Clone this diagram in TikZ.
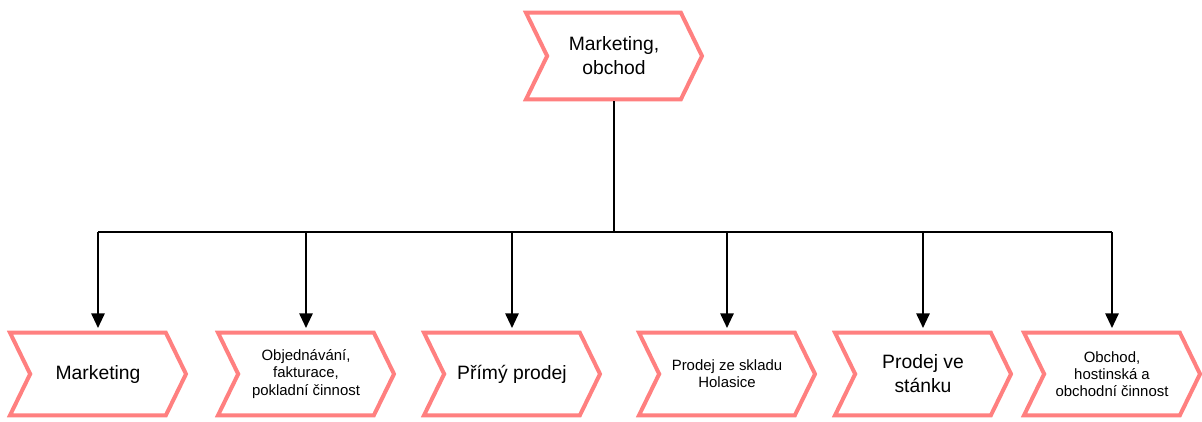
\documentclass[tikz,border=0pt]{standalone}
\usepackage{fontspec}
\setmainfont{Liberation Sans}
\usetikzlibrary{shapes.symbols,arrows.meta}
\definecolor{ruzova}{RGB}{255,128,128}
\tikzset{
	krok/.style={signal, signal from=west, signal to=east, signal pointer angle=128,
		draw=ruzova, line width=3pt, miter limit=10, fill=white, inner sep=2pt,
		minimum width=132pt, minimum height=62pt, align=center},
	velky/.style={font=\fontsize{14.5pt}{18pt}\selectfont},
	maly/.style={font=\fontsize{11.2pt}{12.8pt}\selectfont},
}
\begin{document}
\begin{tikzpicture}[x=0.75pt, y=-0.75pt, line width=1.4pt]
	\useasboundingbox (0,0) rectangle (1202,421);
	%%Hlavni uzel
	\node[krok, velky, minimum height=65pt] (obchod) at (614,56) {Marketing,\\obchod};
	%%Podrizene uzly
	\node[krok, velky] (m1) at (98,374) {Marketing};
	\node[krok, maly]  (m2) at (306,374) {Objednávání,\\fakturace,\\pokladní činnost};
	\node[krok, velky] (m3) at (512,374) {Přímý prodej};
	\node[krok, maly]  (m4) at (727,374) {Prodej ze skladu\\Holasice};
	\node[krok, velky] (m5) at (923,374) {Prodej ve\\stánku};
	\node[krok, maly]  (m6) at (1112,374) {Obchod,\\hostinská a\\obchodní činnost};
	%%Spojnice
	\coordinate (uzel) at (614,232);
	\draw (obchod.south) -- (uzel);
	\draw (m1.north |- uzel) -- (m6.north |- uzel);
	\foreach \n in {m1,m2,m3,m4,m5,m6}
		\draw [>={Triangle[length=11pt,width=10pt]},->] (\n.north |- uzel) -- ([yshift=2pt]\n.north);
\end{tikzpicture}
\end{document}
